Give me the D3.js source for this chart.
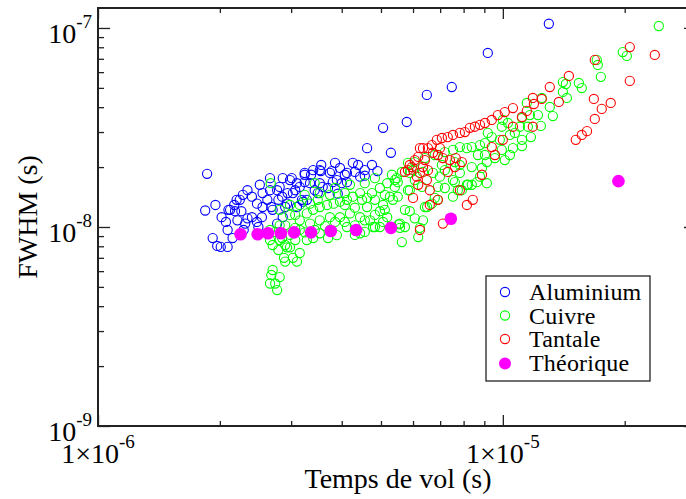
<!DOCTYPE html>
<html><head><meta charset="utf-8">
<script src="https://cdn.jsdelivr.net/npm/d3@7"></script>
<style>
body{margin:0;background:#fff}
svg{display:block}
</style>
</head><body>
<svg id="chart" width="686" height="499"></svg>
<script>
// Units: time in microseconds, FWHM in nanoseconds
const US = 1e-6, NS = 1e-9;
const SERIF = "Liberation Serif";

// Aluminium (blue)
const alT = [12.99,9.18,7.48,6.49,5.79,5.06,5.29,4.62,4.90,4.26,4.56,4.56,4.31,4.12,4.07,3.96,3.80,3.78,3.55,3.40,3.24,3.24,3.53,3.91,3.21,4.00,3.70,3.49,3.28,3.10,2.86,2.77,4.44,1.86,1.84,1.95,2.02,2.07,2.09,1.92,1.97,2.01,2.09,2.15,2.17,2.18,2.28,2.26,2.34,2.40,2.47,2.47,2.55,2.62,2.66,2.70,2.81,2.85,2.93,2.98,3.03,3.15,3.24,3.34,3.53,3.59,3.74,3.89,4.12,2.31,2.40,2.49,2.54,2.68,2.90,2.77,2.94,2.55,3.01,3.07,3.19,2.79,2.24,2.21,2.12,2.29,
3.56,3.85,3.36,3.10,2.51,2.34,2.20,2.10,2.66,2.86,3.43,4.39,4.75];
const alF = [105,74.9,50.5,46.1,33.7,31.5,23.6,24.9,19.1,21.0,19.3,18.1,18.9,16.8,18.3,19.8,16.8,19.1,19.1,19.3,18.7,16.8,16.6,14.7,13.4,16.6,15.7,14.8,13.7,12.6,11.2,10.4,17.9,18.5,12.1,12.9,11.2,10.6,9.66,8.80,8.03,7.94,7.94,8.80,12.9,12.0,14.5,12.0,11.05,14.2,13.1,10.6,14.8,13.7,15.3,12.2,15.9,14.2,13.1,17.2,14.8,15.9,18.3,16.6,19.3,15.9,18.7,17.2,18.7,10.4,11.2,10.0,11.2,12.6,12.6,15.3,14.8,12.6,17.6,15.3,13.7,13.7,13.7,10.8,12.2,9.66,
20.5,21.0,18.3,16.6,16.3,15.3,13.7,12.2,17.6,17.6,15.3,20.5,20.5];

// Cuivre (green)
const cuT = [24.28,19.78,20.24,17.06,17.16,17.46,15.41,15.67,14.07,14.31,14.07,14.39,13.06,13.29,12.21,12.41,11.46,11.53,11.73,11.15,11.15,11.15,12.48,11.66,11.02,10.71,10.59,10.41,10.11,9.94,9.56,9.13,8.88,8.63,8.38,8.15,7.92,7.74,7.53,7.19,6.79,6.68,6.42,6.06,5.73,5.57,5.73,5.89,5.50,5.41,5.83,6.31,6.91,7.53,8.38,8.68,9.03,9.39,9.94,10.29,10.0,9.18,8.78,8.38,8.15,7.83,7.53,7.19,6.79,6.42,6.06,5.83,5.63,5.47,6.72,7.19,7.83,7.61,7.07,6.35,6.06,6.18,5.63,6.24,6.35,6.50,6.91,7.61,8.20,9.13,8.78,
3.43,5.89,4.97,5.06,4.75,4.62,4.44,4.26,4.12,3.96,3.82,3.68,3.53,3.40,3.28,3.15,4.97,4.70,4.44,4.19,3.96,3.74,3.53,3.34,4.62,5.26,5.41,5.18,5.89,5.18,5.57,2.98,2.90,3.07,3.24,3.43,3.64,3.85,4.07,4.31,4.56,4.83,5.11,4.07,4.31,4.49,4.83,5.11,3.74,3.49,3.15,2.98,2.81,2.67,
2.70,2.79,2.88,3.03,3.10,2.90,3.15,2.98,2.81,3.40,3.70,4.56,4.83,2.70,2.68,2.81,2.66,2.74,2.77,5.53,2.66,2.93,3.28,3.53,3.89,4.12,4.44,4.78,5.06,2.74,2.85,5.35,6.0,5.50,
3.24,3.53,3.85,4.19,4.56,4.97,5.32,4.83,4.07,3.34,3.07,3.15,3.74,4.31,2.98,2.81,2.66,2.90,3.07,6.99,7.83,9.03,9.83,10.41];
const cuF = [102.3,75.7,72.4,69.1,65.2,56.8,52.9,49.9,53.5,52.3,47.7,44.5,40.1,36.1,36.5,32.2,42.0,31.9,28.3,35.3,27.4,25.5,44.5,36.5,31.9,29.7,24.9,23.0,21.7,24.4,22.2,21.2,19.8,16.8,16.3,16.3,15.3,15.3,14.2,15.7,14.0,13.1,12.6,11.05,10.0,10.4,12.2,12.0,14.2,17.2,15.3,15.9,15.9,17.2,20.0,23.0,26.4,28.3,31.9,33.3,34.5,29.7,25.8,25.2,24.9,25.2,24.4,23.8,23.0,22.2,21.2,21.0,18.9,17.6,18.7,19.3,18.7,21.2,20.5,18.9,17.2,8.90,8.4,9.9,10.8,12.6,13.7,16.8,16.3,16.6,17.9,
16.6,15.3,12.0,12.9,14.8,14.0,14.8,14.2,13.7,13.4,13.1,12.9,12.6,12.2,11.7,10.8,10.0,10.8,11.2,11.7,11.2,11.2,10.8,10.4,12.6,14.2,15.9,16.6,18.7,11.2,9.9,11.5,10.2,9.9,9.4,9.66,10.1,10.6,10.6,10.2,10.8,11.5,12.2,12.9,12.5,13.7,13.7,14.5,14.5,13.7,12.9,12.9,12.2,16.6,
8.12,7.66,7.0,7.0,6.7,6.7,7.4,7.9,8.6,8.8,8.8,9.45,10.0,6.08,5.74,5.6,5.2,5.2,4.82,10.3,8.6,7.9,8.6,9.3,9.1,10.0,9.3,10.0,10.6,9.45,8.8,13.7,19.3,16.8,
14.5,14.8,15.7,16.3,16.6,15.7,18.3,17.6,14.8,13.1,11.5,9.66,9.66,9.12,9.12,10.2,9.66,8.12,8.6,17.9,20.5,23.0,27.4,29.0];

// Tantale (red)
const taT = [20.59,23.73,16.87,14.56,13.06,13.75,12.48,11.86,11.93,11.46,11.15,11.86,20.59,16.78,17.55,18.47,16.87,16.14,15.67,15.14,10.59,10.11,9.72,9.39,9.03,8.78,8.53,8.29,8.06,7.83,7.53,7.31,7.07,6.87,6.68,6.53,6.35,6.18,6.06,5.96,5.83,5.73,6.35,6.53,6.91,7.11,7.40,7.65,7.92,7.61,7.31,6.24,6.13,6.49,6.18,6.60,6.0,6.91,6.60,7.83,8.88,9.39,9.56,8.15,8.43,7.11,6.24,10.0,10.59,6.24,6.72,6.99,5.89,6.42,29.3];
const taF = [80.2,73.2,69.1,57.4,50.5,42.5,44.0,44.5,41.5,38.3,35.7,31.9,54.2,44.0,39.2,42.0,34.9,30.3,29.0,27.4,39.6,37.8,36.5,34.5,33.3,32.6,31.9,31.5,30.0,29.7,29.0,28.3,28.0,27.4,25.8,24.9,24.9,22.5,21.7,20.0,19.3,18.9,20.0,19.3,23.0,22.2,21.7,22.2,21.2,20.0,18.9,18.7,17.9,17.2,16.3,15.3,14.0,13.7,12.9,15.3,18.3,25.2,23.0,12.9,13.7,10.4,9.66,27.4,31.9,24.9,23.6,24.9,20.5,21.7,97.7];

// Théorique (magenta, filled)
const thT = [2.25,2.48,2.63,2.83,3.05,3.36,3.76,4.34,5.29,7.44,19.3];
const thF = [9.2,9.2,9.3,9.3,9.4,9.4,9.55,9.66,9.9,11.0,17.0];

// Tick labels
const xTickVals = [1e-6, 1e-5];
const xTickMant = ["1×10", "1×10"];
const xTickExp = ["-6", "-5"];
const yTickVals = [1e-9, 1e-8, 1e-7];
const yTickMant = ["10", "10", "10"];
const yTickExp = ["-9", "-8", "-7"];

const seriesNames = ["Aluminium", "Cuivre", "Tantale", "Théorique"];
const seriesColors = ["#0000ff", "#00ff00", "#ff0000", "#ff00ff"];

const svg = d3.select("#chart");
const L = 98, R = 696, T = 8, B = 426;
const x = d3.scaleLog().domain([1e-6, 3e-5]).range([L, R]);
const y = d3.scaleLog().domain([1e-9, 1.26e-7]).range([B, T]);

svg.append("defs").append("clipPath").attr("id", "plotclip")
  .append("rect").attr("x", L).attr("y", T).attr("width", R - L).attr("height", B - T);

const isMajor = v => Math.abs(Math.log10(v) - Math.round(Math.log10(v))) < 1e-6;
const xt = x.ticks();
const yt = y.ticks();
const xMaj = xt.filter(isMajor), xMin = xt.filter(v => !isMajor(v));
const yMaj = yt.filter(isMajor), yMin = yt.filter(v => !isMajor(v));

function styleAxis(g) {
  g.select(".domain").remove();
  g.selectAll(".tick line").attr("stroke", "#222").attr("stroke-width", 1.3);
  g.selectAll(".tick text").remove();
}
svg.append("g").attr("transform", `translate(0,${B})`).call(d3.axisBottom(x).tickValues(xMaj).tickSize(-11).tickFormat("")).call(styleAxis);
svg.append("g").attr("transform", `translate(0,${B})`).call(d3.axisBottom(x).tickValues(xMin).tickSize(-5).tickFormat("")).call(styleAxis);
svg.append("g").attr("transform", `translate(0,${T})`).call(d3.axisTop(x).tickValues(xMaj).tickSize(-11).tickFormat("")).call(styleAxis);
svg.append("g").attr("transform", `translate(0,${T})`).call(d3.axisTop(x).tickValues(xMin).tickSize(-5).tickFormat("")).call(styleAxis);
svg.append("g").attr("transform", `translate(${L},0)`).call(d3.axisLeft(y).tickValues(yMaj).tickSize(-12).tickFormat("")).call(styleAxis);
svg.append("g").attr("transform", `translate(${L},0)`).call(d3.axisLeft(y).tickValues(yMin).tickSize(-6).tickFormat("")).call(styleAxis);
svg.append("g").attr("transform", `translate(${R},0)`).call(d3.axisRight(y).tickValues(yMaj).tickSize(-12).tickFormat("")).call(styleAxis);
svg.append("g").attr("transform", `translate(${R},0)`).call(d3.axisRight(y).tickValues(yMin).tickSize(-6).tickFormat("")).call(styleAxis);

// data
const plot = svg.append("g").attr("clip-path", "url(#plotclip)");
function openSeries(ts, fs, color) {
  plot.append("g").selectAll("circle").data(d3.zip(ts, fs)).join("circle")
    .attr("cx", d => x(d[0] * US)).attr("cy", d => y(d[1] * NS)).attr("r", 4.6)
    .attr("fill", "none").attr("stroke", color).attr("stroke-width", 1.1);
}
openSeries(alT, alF, seriesColors[0]);
openSeries(cuT, cuF, seriesColors[1]);
openSeries(taT, taF, seriesColors[2]);
plot.append("g").selectAll("circle").data(d3.zip(thT, thF)).join("circle")
  .attr("cx", d => x(d[0] * US)).attr("cy", d => y(d[1] * NS)).attr("r", 6.3)
  .attr("fill", seriesColors[3]);

// frame
svg.append("rect").attr("x", L).attr("y", T).attr("width", R - L).attr("height", B - T)
  .attr("fill", "none").attr("stroke", "#222").attr("stroke-width", 2);

// tick labels
xTickVals.forEach((v, i) => {
  const t = svg.append("text").attr("x", x(v)).attr("y", B + 37).attr("text-anchor", "middle").attr("font-family", SERIF);
  t.append("tspan").attr("font-size", 28).text(xTickMant[i]);
  t.append("tspan").attr("font-size", 19).attr("dy", -15).text(xTickExp[i]);
});
yTickVals.forEach((v, i) => {
  const t = svg.append("text").attr("x", L - 6).attr("y", y(v) + 15).attr("text-anchor", "end").attr("font-family", SERIF);
  t.append("tspan").attr("font-size", 28).text(yTickMant[i]);
  t.append("tspan").attr("font-size", 19).attr("dy", -15).text(yTickExp[i]);
});

// axis titles
svg.append("text").attr("x", 398).attr("y", 488).attr("text-anchor", "middle").attr("font-size", 28).attr("font-family", SERIF).text("Temps de vol (s)");
svg.append("text").attr("transform", "translate(37,217) rotate(-90)").attr("text-anchor", "middle").attr("font-size", 28).attr("font-family", SERIF).text("FWHM (s)");

// legend
const lg = svg.append("g");
lg.append("rect").attr("x", 486).attr("y", 276).attr("width", 164).attr("height", 105)
  .attr("fill", "#fff").attr("stroke", "#222").attr("stroke-width", 1.3);
seriesNames.forEach((name, i) => {
  const cy = 292 + i * 23.5;
  if (i < 3) {
    lg.append("circle").attr("cx", 505).attr("cy", cy).attr("r", 4.6).attr("fill", "none")
      .attr("stroke", seriesColors[i]).attr("stroke-width", 1.1);
  } else {
    lg.append("circle").attr("cx", 505).attr("cy", cy + 1).attr("r", 6).attr("fill", seriesColors[i]);
  }
  lg.append("text").attr("x", 529).attr("y", cy + 8)
    .attr("font-family", SERIF).attr("font-size", 24).attr("letter-spacing", 0.2).text(name);
});
</script>
</body></html>
